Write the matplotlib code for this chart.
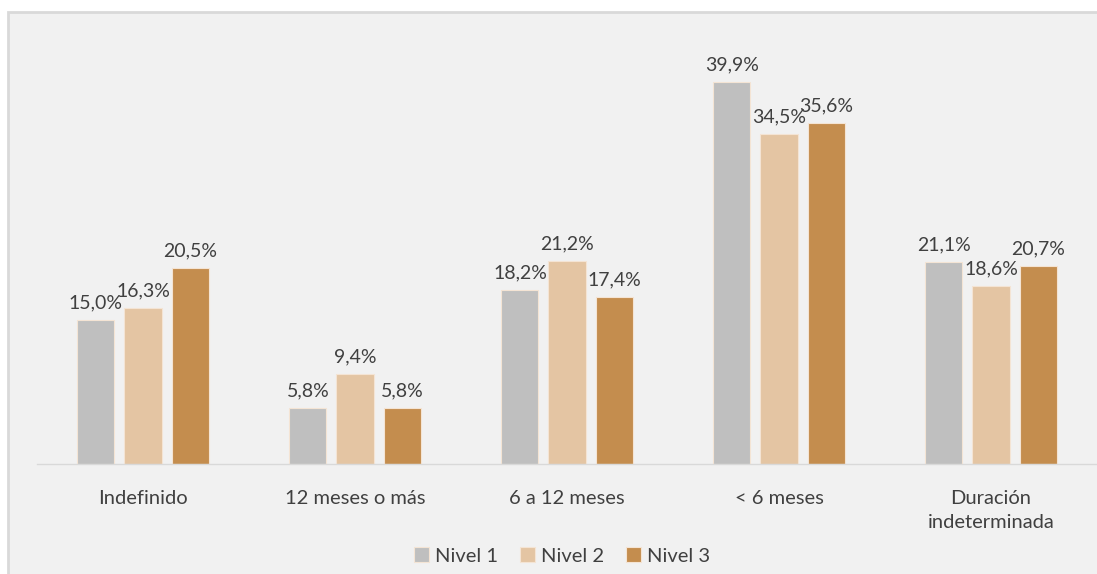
import numpy as np
import matplotlib
matplotlib.use("Agg")
from matplotlib import pyplot as plt
from matplotlib.patches import Rectangle

categories = ["Indefinido", "12 meses o más", "6 a 12 meses", "< 6 meses", "Duración\nindeterminada"]
series_names = ["Nivel 1", "Nivel 2", "Nivel 3"]
nivel1 = [15.0, 5.8, 18.2, 39.9, 21.1]
nivel2 = [16.3, 9.4, 21.2, 34.5, 18.6]
nivel3 = [20.5, 5.8, 17.4, 35.6, 20.7]
colors = ["#bfbfbf", "#e4c5a3", "#c48d4e"]

plt.rcParams["font.family"] = ["Lato", "DejaVu Sans"]
text_color = "#404040"

fig = plt.figure(figsize=(10.97, 5.74), dpi=100)
fig.patch.set_facecolor("white")
# grey chart frame
fig.patches.append(Rectangle((8 / 1097, -0.01), 1.0, (574 - 12) / 574 + 0.01,
                             transform=fig.transFigure, facecolor="#f1f1f1",
                             edgecolor="#d9d9d9", linewidth=2, zorder=-10))

ax = fig.add_axes([37 / 1097, (574 - 464) / 574, 1060 / 1097, (464 - 33) / 574])
ax.set_facecolor("none")

x = np.arange(len(categories))
pitch = 0.222
width = 0.175
for i, (vals, name, c) in enumerate(zip([nivel1, nivel2, nivel3], series_names, colors)):
    bars = ax.bar(x + (i - 1) * pitch, vals, width, color=c, label=name,
                  edgecolor="#f4e4d4", linewidth=0.8)
    for b, v in zip(bars, vals):
        ax.text(b.get_x() + b.get_width() / 2, v + 0.9, f"{v:.1f}%".replace(".", ","),
                ha="center", va="bottom", fontsize=14, color=text_color)

ax.set_xlim(-0.5, 4.5)
ax.set_ylim(0, 45)
ax.set_yticks([])
ax.set_xticks(x)
ax.set_xticklabels(categories, fontsize=14.5, color=text_color, linespacing=1.45)
ax.tick_params(axis="x", length=0, pad=19)
for s in ["top", "right", "left"]:
    ax.spines[s].set_visible(False)
ax.spines["bottom"].set_color("#d9d9d9")
ax.spines["bottom"].set_linewidth(1)

fig.legend(loc="center", bbox_to_anchor=(562 / 1097, 1 - 556 / 574), ncol=3,
           frameon=False, fontsize=14.5, handlelength=0.75, handleheight=0.75,
           handletextpad=0.3, columnspacing=1.1, labelcolor=text_color)

fig.savefig("out.png", dpi=100)
